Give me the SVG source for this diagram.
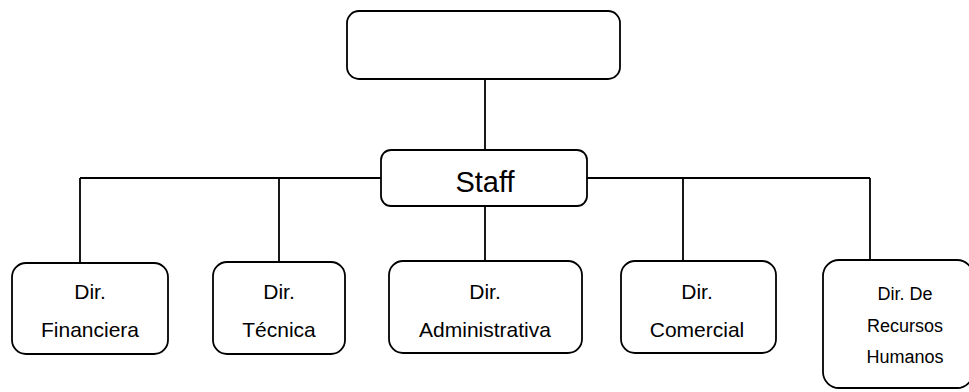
<svg xmlns="http://www.w3.org/2000/svg" width="969" height="392" viewBox="0 0 969 392">
<style>
.box{fill:#fff;stroke:#000;stroke-width:1.8}
.ln{fill:none;stroke:#000;stroke-width:1.8}
text{font-family:"Liberation Sans",Arial,sans-serif;fill:#000;text-anchor:middle}
.t{font-size:21px}
.s{font-size:18px}
</style>
<rect width="969" height="392" fill="#fff"/>
<g id="connectors">
<path class="ln" d="M485 79V150"/>
<path class="ln" d="M80 178H381M587 178H870"/>
<path class="ln" d="M80 178V263M279 178V262M485 206V261M683 178V261M870 178V260"/>
</g>
<g id="top"><rect class="box" x="347" y="11" width="273" height="68" rx="12"/></g>
<g id="staff"><rect class="box" x="381" y="150" width="206" height="56" rx="10"/><text x="485" y="192" style="font-size:29px">Staff</text></g>
<g id="financiera"><rect class="box" x="12" y="263" width="156" height="91" rx="14"/><text class="t" x="90" y="299">Dir.</text><text class="t" x="90" y="337">Financiera</text></g>
<g id="tecnica"><rect class="box" x="213" y="262" width="132" height="92" rx="14"/><text class="t" x="279" y="299">Dir.</text><text class="t" x="279" y="337">Técnica</text></g>
<g id="administrativa"><rect class="box" x="389" y="261" width="193" height="92" rx="14"/><text class="t" x="485" y="299">Dir.</text><text class="t" x="485" y="337">Administrativa</text></g>
<g id="comercial"><rect class="box" x="621" y="261" width="155" height="92" rx="14"/><text class="t" x="697" y="299">Dir.</text><text class="t" x="697" y="337">Comercial</text></g>
<g id="rrhh"><rect class="box" x="823" y="260" width="150" height="128" rx="16"/><text class="s" x="905" y="300">Dir. De</text><text class="s" x="905" y="332">Recursos</text><text class="s" x="905" y="363">Humanos</text></g>
</svg>
